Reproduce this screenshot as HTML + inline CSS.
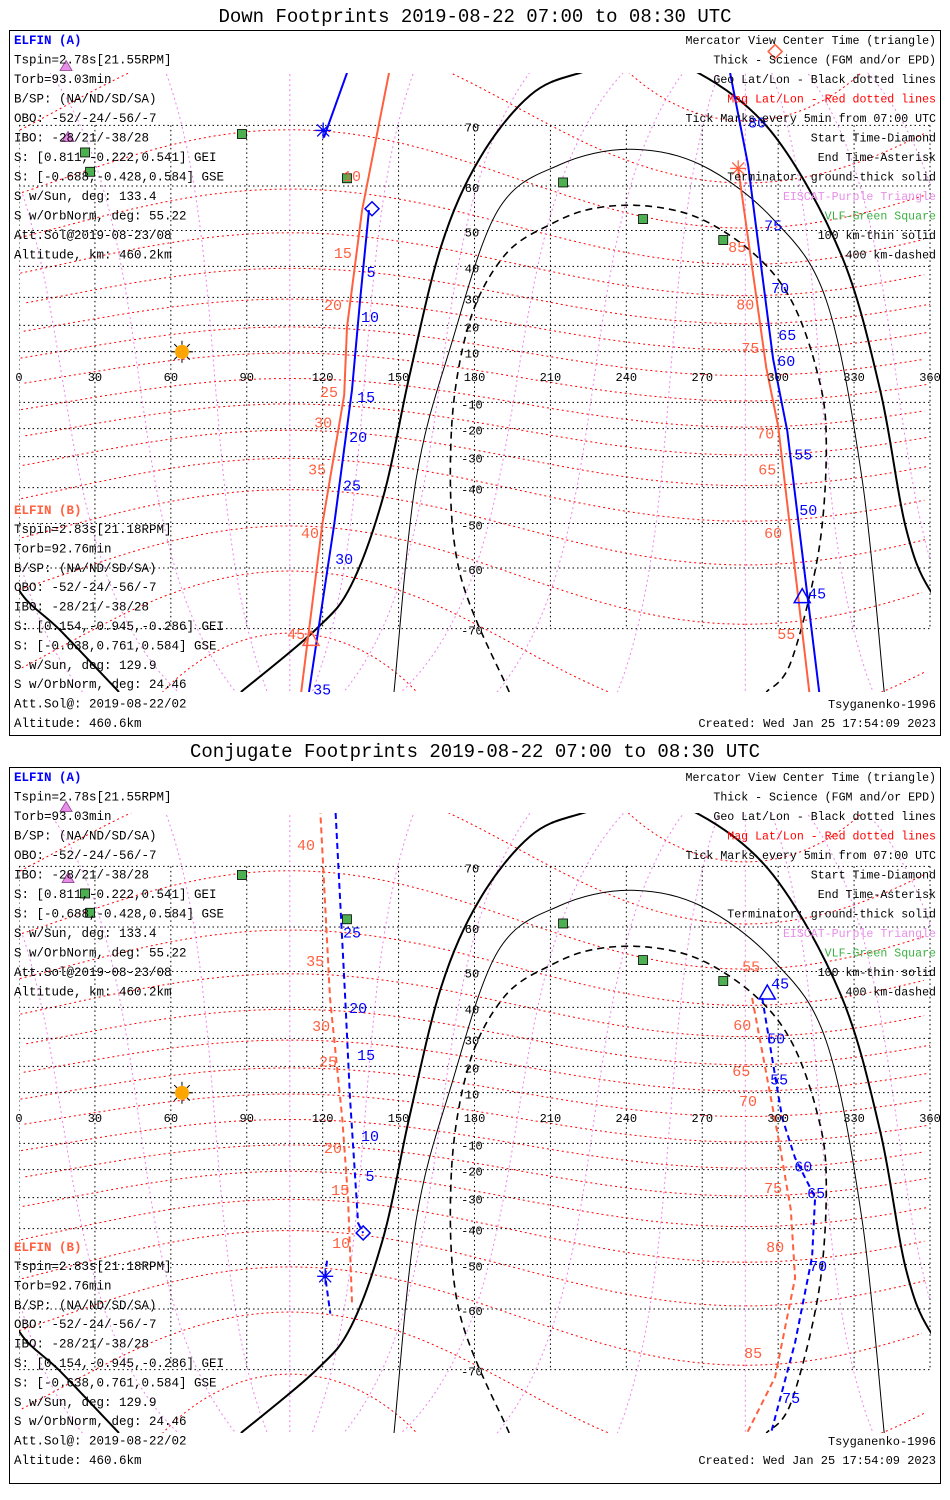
<!DOCTYPE html>
<html><head><meta charset="utf-8">
<style>
html,body{margin:0;padding:0;background:#fff;}
svg{display:block;}
text{font-family:"Liberation Mono",monospace;}
</style></head>
<body>
<svg id="chart" width="950" height="1500" viewBox="0 0 950 1500" xmlns="http://www.w3.org/2000/svg">
<rect x="0" y="0" width="950" height="1500" fill="#fff"/>
</svg>
<script>
// ---- data (lon/lat in degrees) ----
const gridLatTicks=[70,60,50,40,30,20,10,-10,-20,-30,-40,-50,-60,-70];
const gridLonTicks=[0,30,60,90,120,150,180,210,240,270,300,330,360];
// terminators (shared by both panels)
const thickLon=[87.7,117,131.2,144.3,154.2,166.8,182,202,221.7,245.5,268.4,298,324.9,340.3,350.2,360,376.2,399.5];
const thickLat=[-77,-70.2,-63.3,-41.7,0,45.8,65,73.7,76,77,76,68.8,43.4,-5.1,-50.4,-64.1,-70.2,-77];
const thinLon=[148.2,156.9,170.8,189.3,213.4,241.5,269.6,298,319,333.2,341.9];
const thinLat=[-77,-37.6,12.7,54.9,63.9,66.5,63.9,52.8,29.1,-37.6,-77];
const dashLon=[193.7,173.9,170.8,177.9,192.1,210.3,227.3,248.6,269.6,290.9,305.1,315,319,316.2,305.1,295.3];
const dashLat=[-77,-60.4,-22.4,20.9,43.4,51.6,55.3,55.8,52.8,43.4,29.1,3.6,-22.4,-55.8,-74,-77];
// VLF stations, EISCAT, sun
const vlfLon=[88.1,26.1,28.1,129.6,215,246.6,278.3];
const vlfLat=[68.8,66,62.7,61.5,60.7,52.8,47.5];
const eiscatLon=[18.6,19.4];
const eiscatLat=[76.6,68.3];
const sunLon=[64.4];
const sunLat=[9.9];
// Down panel tracks
const dA1Lon=[129.6,120.5], dA1Lat=[76,68.3];
const dA2Lon=[138.3,134.8,131.6,124.5,114.6], dA2Lat=[54.9,29.1,-5.1,-50.4,-77];
const dA3Lon=[281,288.1,298,303.6,316.2], dA3Lat=[76,63.9,7.1,-20.9,-77];
const dB1Lon=[146.2,135.6,129.6,128.5,119.8,111.5], dB1Lat=[76,54.9,19.3,-7.1,-50.4,-77];
const dB2Lon=[284.2,295.3,300,312.3], dB2Lat=[63.3,3.6,-19.2,-77];
const dAlabText=['5','10','15','20','25','30','35','80','75','70','65','60','55','50','45'];
const dAlabLon=[139.1,138.7,137.2,134,131.6,128.5,119.8,291.7,298,300.8,303.6,303.2,309.9,311.9,315.4];
const dAlabLat=[38.3,23.1,-7.9,-23.1,-39.3,-58.2,-76.8,70.4,51.3,33.1,16.4,6.3,-29.3,-46.4,-64.7];
const dBlabText=['10','15','20','25','30','35','40','45','85','80','75','70','65','60','55'];
const dBlabLon=[131.6,128,124.1,122.5,120.2,117.8,115,109.5,283.8,287,289,294.9,295.7,298,303.2];
const dBlabLat=[61.9,43.9,27.3,-5.9,-17.7,-34.3,-52.4,-70.7,45.6,27.6,11.4,-21.7,-34.3,-52.4,-70.7];
// Conjugate panel tracks
const cA1Lon=[124.9,128.9,130.8,134,136], cA1Lat=[77,42.8,7.9,-38.3,-41.3];
const cA2Lon=[121.7,121,123], cA2Lat=[-49,-52.9,-60.9];
const cA3Lon=[293.7,297.6,301.6,306.7,314.6,313.4,306.7,296.8], cA3Lat=[42.8,23.1,0,-15.6,-29.9,-48,-66,-77.3];
const cB1Lon=[119,122.9,127.7,130,131.6], cB1Lat=[76.6,42.8,0,-29.9,-58.7];
const cB2Lon=[289.7,294.9,300.8,305,306.7,298.8,287], cB2Lat=[42.8,19.3,-11.8,-34,-53.3,-71,-77.3];
const cAlabText=['25','20','15','10','5','45','50','55','60','65','70','75'];
const cAlabLon=[131.6,134,137.2,138.7,138.7,300.8,299.2,300.4,309.9,315,315.8,305.1];
const cAlabLat=[58.9,39.8,24.1,-7.1,-22.4,46.9,29.9,15,-18.9,-28.4,-50.4,-73.5];
const cBlabText=['40','35','30','25','20','15','10','55','60','65','70','75','80','85'];
const cBlabLon=[113.4,117,119.4,122.1,124.1,126.9,127.3,289.3,285.8,285.4,288.1,298,298.8,290.1];
const cBlabLat=[72.7,52.6,34.1,21.7,-11.8,-27.4,-44.2,51.3,34.4,18.2,6.7,-26.7,-45.4,-67.6];

const infoA=['Tspin=2.78s[21.55RPM]','Torb=93.03min','B/SP: (NA/ND/SD/SA)','OBO: -52/-24/-56/-7','IBO: -28/21/-38/28','S: [0.811,-0.222,0.541] GEI','S: [-0.688,-0.428,0.584] GSE','S w/Sun, deg: 133.4','S w/OrbNorm, deg: 55.22','Att.Sol@2019-08-23/08','Altitude, km: 460.2km'];
const infoB=['Tspin=2.83s[21.18RPM]','Torb=92.76min','B/SP: (NA/ND/SD/SA)','OBO: -52/-24/-56/-7','IBO: -28/21/-38/28','S: [0.154,-0.945,-0.286] GEI','S: [-0.638,0.761,0.584] GSE','S w/Sun, deg: 129.9','S w/OrbNorm, deg: 24.46','Att.Sol@: 2019-08-22/02','Altitude: 460.6km'];
const legendText=['Mercator View Center Time (triangle)','Thick - Science (FGM and/or EPD)','Geo Lat/Lon - Black dotted lines','Mag Lat/Lon - Red dotted lines','Tick Marks every 5min from 07:00 UTC','Start Time-Diamond','End Time-Asterisk','Terminator: ground-thick solid','EISCAT-Purple Triangle','VLF-Green Square','100 km-thin solid','400 km-dashed'];
const legendColor=['#000','#000','#000','#f00','#000','#000','#000','#000','#e88ee8','#3cb043','#000','#000'];

const NS='http://www.w3.org/2000/svg';
const svg=document.getElementById('chart');
const BLUE='#0000ff', RED='#ff6040';
const panels=[
 {key:'down',title:'Down Footprints 2019-08-22 07:00 to 08:30 UTC',titleY:22,boxY:30,boxH:705,eq:377,top:73,bot:692,dash:null,
  A:[[dA1Lon,dA1Lat],[dA2Lon,dA2Lat],[dA3Lon,dA3Lat]],B:[[dB1Lon,dB1Lat],[dB2Lon,dB2Lat]],
  Alab:[dAlabText,dAlabLon,dAlabLat],Blab:[dBlabText,dBlabLon,dBlabLat],
  marks:[['asterisk',BLUE,120.2,69.3],['diamond',BLUE,139.5,55.2],['triangle',BLUE,309.5,-65.2],['diamond',RED,298.8,77.9],['asterisk',RED,284.2,63.3],['triangle',RED,115.4,-71.4]]},
 {key:'conj',title:'Conjugate Footprints 2019-08-22 07:00 to 08:30 UTC',titleY:757,boxY:767,boxH:716,eq:1118,top:813,bot:1433,dash:'6,4',
  A:[[cA1Lon,cA1Lat],[cA2Lon,cA2Lat],[cA3Lon,cA3Lat]],B:[[cB1Lon,cB1Lat],[cB2Lon,cB2Lat]],
  Alab:[cAlabText,cAlabLon,cAlabLat],Blab:[cBlabText,cBlabLon,cBlabLat],
  marks:[['asterisk',BLUE,121,-52.9],['diamond',BLUE,136,-41.3],['triangle',BLUE,295.7,44.2]]}
];
function X(lon){return 19+lon*911/360;}
function Y(lat,p){const r=lat*Math.PI/180;return p.eq-145*Math.log(Math.tan(Math.PI/4+r/2));}
function mk(tag,attrs,parent){const e=document.createElementNS(NS,tag);for(const k in attrs)e.setAttribute(k,attrs[k]);(parent||svg).appendChild(e);return e;}
function pathD(lons,lats,p,shift){let d='';for(let i=0;i<lons.length;i++){d+=(i?'L':'M')+X(lons[i]+(shift||0)).toFixed(1)+','+Y(lats[i],p).toFixed(1);}return d;}
function smoothD(lons,lats,p,shift){const P=lons.map((l,i)=>[X(l+(shift||0)),Y(lats[i],p)]);
 let d='M'+P[0][0].toFixed(1)+','+P[0][1].toFixed(1);
 for(let i=0;i<P.length-1;i++){const p0=P[Math.max(0,i-1)],p1=P[i],p2=P[i+1],p3=P[Math.min(P.length-1,i+2)];
  const c1=[p1[0]+(p2[0]-p0[0])/6,p1[1]+(p2[1]-p0[1])/6],c2=[p2[0]-(p3[0]-p1[0])/6,p2[1]-(p3[1]-p1[1])/6];
  d+='C'+c1[0].toFixed(1)+','+c1[1].toFixed(1)+' '+c2[0].toFixed(1)+','+c2[1].toFixed(1)+' '+p2[0].toFixed(1)+','+p2[1].toFixed(1);}
 return d;}
// magnetic coordinate conversion (dipole pole)
const PL=80.6*Math.PI/180, PLON=287*Math.PI/180;
function mag2geo(mlat,mlon){const a=mlat*Math.PI/180,b=mlon*Math.PI/180;
 let x=Math.cos(a)*Math.cos(b),y=Math.cos(a)*Math.sin(b),z=Math.sin(a);
 const t=Math.PI/2-PL;const x1=x*Math.cos(t)+z*Math.sin(t),z1=-x*Math.sin(t)+z*Math.cos(t);
 const x2=x1*Math.cos(PLON)-y*Math.sin(PLON),y2=x1*Math.sin(PLON)+y*Math.cos(PLON);
 let lon=Math.atan2(y2,x2)*180/Math.PI;if(lon<0)lon+=360;return [lon,Math.asin(Math.max(-1,Math.min(1,z1)))*180/Math.PI];}
function magPath(pts,p){let d='',prev=null;for(const q of pts){if(Math.abs(q[1])>84){prev=null;continue;}
 const cmd=(prev&&Math.abs(q[0]-prev[0])<180)?'L':'M';d+=cmd+X(q[0]).toFixed(1)+','+Y(q[1],p).toFixed(1);prev=q;}return d;}

panels.forEach((p,pi)=>{
 const g=mk('g',{});
 
 
 const title=mk('text',{x:475,y:p.titleY,'text-anchor':'middle','font-size':'19',fill:'#000'},g);
 title.textContent=p.title;
 
 
 const box=mk('rect',{x:9.5,y:p.boxY+0.5,width:931,height:p.boxH,fill:'none',stroke:'#000','stroke-width':1},g);
 
 
 const cp=mk('clipPath',{id:'clip'+pi},g);
 mk('rect',{x:19,y:p.top,width:912,height:p.bot-p.top},cp);
 const map=mk('g',{'clip-path':'url(#clip'+pi+')'},g);
 
 
 for(let ml=-80;ml<=80;ml+=10){const pts=[];for(let m=0;m<=360;m+=3)pts.push(mag2geo(ml,m));
  const l=mk('path',{d:magPath(pts,p),fill:'none',stroke:'#ff0000','stroke-width':1,'stroke-dasharray':'2,3'},map);
  
  }
 for(let mo=0;mo<360;mo+=30){const pts=[];for(let ml=-88;ml<=88;ml+=2)pts.push(mag2geo(ml,mo));
  const l=mk('path',{d:magPath(pts,p),fill:'none',stroke:'#ee82ee','stroke-width':1,'stroke-dasharray':'2,3'},map);
  
  }
 gridLatTicks.forEach(v=>{const y=Y(v,p);const l=mk('line',{x1:19,x2:931,y1:y,y2:y,stroke:'#000','stroke-width':1,'stroke-dasharray':'1.5,3'},map);
  
  });
 gridLonTicks.forEach(v=>{const x=X(v);const l=mk('line',{x1:x,x2:x,y1:Y(70,p),y2:Y(-70,p),stroke:'#000','stroke-width':1,'stroke-dasharray':'1.5,3'},map);
  
  });
 [[thickLon,thickLat,2,null,'terminator-ground'],[thinLon,thinLat,1,null,'terminator-100km'],[dashLon,dashLat,1.6,'7,5','terminator-400km']].forEach(t=>{
  [0,-360].forEach(s=>{const l=mk('path',{d:smoothD(t[0],t[1],p,s),fill:'none',stroke:'#000','stroke-width':t[2]},map);
   if(t[3])l.setAttribute('stroke-dasharray',t[3]);
   
   });});
 vlfLon.forEach((lo,i)=>{const s=mk('rect',{x:X(lo)-4.5,y:Y(vlfLat[i],p)-4.5,width:9,height:9,fill:'#4caf50',stroke:'#000','stroke-width':0.8},g);
  
  });
 eiscatLon.forEach((lo,i)=>{const x=X(lo),y=Y(eiscatLat[i],p);const t=mk('path',{d:`M${x},${y-6}L${x+6},${y+4}L${x-6},${y+4}Z`,fill:'#e88ee8',stroke:'#8a3a8a','stroke-width':0.8},g);
  
  });
 const sx=X(sunLon[0]),sy=Y(sunLat[0],p);
 const sg=mk('g',{},g);
 
 
 for(let a=0;a<8;a++){const an=a*Math.PI/4;mk('line',{x1:sx+Math.cos(an)*7,y1:sy+Math.sin(an)*7,x2:sx+Math.cos(an)*11,y2:sy+Math.sin(an)*11,stroke:'#000','stroke-width':1},sg);}
 mk('circle',{cx:sx,cy:sy,r:7,fill:'#ffa500'},sg);
 const tg=mk('g',{'clip-path':'url(#clip'+pi+')'},g);
 p.A.forEach(s=>{const l=mk('path',{d:pathD(s[0],s[1],p),fill:'none',stroke:BLUE,'stroke-width':2},tg);
  if(p.dash)l.setAttribute('stroke-dasharray',p.dash);
  
  });
 p.B.forEach(s=>{const l=mk('path',{d:pathD(s[0],s[1],p),fill:'none',stroke:RED,'stroke-width':2},tg);
  if(p.dash)l.setAttribute('stroke-dasharray',p.dash);
  
  });
 [[p.Alab,BLUE,'elfin-a-tick-label'],[p.Blab,RED,'elfin-b-tick-label']].forEach(L=>{
  L[0][0].forEach((tx,i)=>{const t=mk('text',{x:X(L[0][1][i]),y:Y(L[0][2][i],p)+5,'text-anchor':'middle','font-size':'15',fill:L[1],'font-family':'"Liberation Sans",sans-serif'},g);
   t.textContent=tx;
   
   });});
 p.marks.forEach(m=>{const x=X(m[2]),y=Y(m[3],p);let e;
  if(m[0]==='diamond')e=mk('path',{d:`M${x},${y-7}L${x+7},${y}L${x},${y+7}L${x-7},${y}Z`,fill:'none',stroke:m[1],'stroke-width':1.5},g);
  else if(m[0]==='triangle')e=mk('path',{d:`M${x},${y-8}L${x+8},${y+6}L${x-8},${y+6}Z`,fill:'none',stroke:m[1],'stroke-width':1.5},g);
  else e=mk('path',{d:`M${x-8},${y}L${x+8},${y}M${x},${y-8}L${x},${y+8}M${x-6},${y-6}L${x+6},${y+6}M${x-6},${y+6}L${x+6},${y-6}`,fill:'none',stroke:m[1],'stroke-width':1.3},g);
  
  });
 gridLatTicks.forEach(v=>{const t=mk('text',{x:X(179),y:Y(v,p)+6,'text-anchor':'middle','font-size':'12',fill:'#000'},g);
  t.textContent=String(v);
  
  });
 gridLonTicks.forEach(v=>{const t=mk('text',{x:X(v),y:p.eq+4,'text-anchor':'middle','font-size':'12',fill:'#000'},g);
  t.textContent=String(v);
  
  });
 const off=p.boxY-30;
 const ha=mk('text',{x:14,y:44+off,'font-size':'12.5','font-weight':'bold',fill:BLUE},g);
 ha.textContent='ELFIN (A)';
 
 
 infoA.forEach((s,i)=>{const t=mk('text',{x:14,y:63.5+i*19.5+off,'font-size':'12.5',fill:'#000'},g);
  t.textContent=s;
  
  });
 const hb=mk('text',{x:14,y:514+off,'font-size':'12.5','font-weight':'bold',fill:RED},g);
 hb.textContent='ELFIN (B)';
 
 
 infoB.forEach((s,i)=>{const t=mk('text',{x:14,y:533+i*19.4+off,'font-size':'12.5',fill:'#000'},g);
  t.textContent=s;
  
  });
 legendText.forEach((s,i)=>{const t=mk('text',{x:936,y:44+i*19.5+off,'text-anchor':'end','font-size':'11.6',fill:legendColor[i]},g);
  t.textContent=s;
  
  });
 const m1=mk('text',{x:936,y:708+off,'text-anchor':'end','font-size':'12',fill:'#000'},g);
 m1.textContent='Tsyganenko-1996';
 
 
 const m2=mk('text',{x:936,y:727+off,'text-anchor':'end','font-size':'12',fill:'#000'},g);
 m2.textContent='Created: Wed Jan 25 17:54:09 2023';
 
 
});
</script>
</body></html>
